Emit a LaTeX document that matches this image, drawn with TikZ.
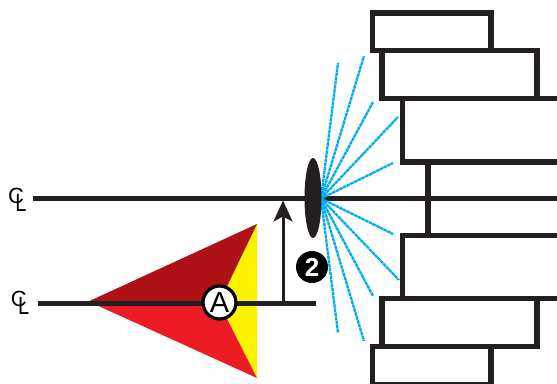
\documentclass[tikz,border=0pt]{standalone}
\usepackage{fontspec}
\usepackage{xcolor}
\newfontfamily\badgefont{Liberation Sans}
\usetikzlibrary{arrows.meta,shapes.geometric}
\definecolor{boomgray}{HTML}{231F20}
\definecolor{raycyan}{HTML}{00AEEF}
\definecolor{darkred}{HTML}{AE1116}
\definecolor{brightred}{HTML}{ED1C24}
\definecolor{sunyellow}{HTML}{FFF200}
\tikzset{
  boom/.style={draw=boomgray, line width=5.4pt},
  ray/.style={draw=raycyan, line width=2.3pt, dash pattern=on 3.5pt off 0.6pt},
  clmark/.style={inner sep=0pt, anchor=base west, text=black, font=\badgefont\fontsize{22}{22}\selectfont}
}
\newcommand{\clsign}{C\kern-8.7pt\raisebox{-8pt}{\fontsize{25}{25}\selectfont\scalebox{0.8}[1]{L}}}
\begin{document}
\begin{tikzpicture}[x=1pt,y=-1pt]
\useasboundingbox (0,0) rectangle (557,383);
\clip (0,0) rectangle (557,383);
% guidance triangle
\coordinate (apex) at (84,303.5);
\coordinate (apexlow) at (93,303.5);
\coordinate (topc) at (257,224);
\coordinate (botc) at (257,378);
\coordinate (mid) at (219,303);
\fill [sunyellow] (mid) -- (topc) -- (botc) -- cycle;
\fill [darkred] (apex) -- (topc) -- (mid) -- cycle;
\fill [brightred] (apexlow) -- (botc) -- (mid) -- cycle;
% sections
\draw [boom] (372.5,13) rectangle (491,50.5);
\draw [boom] (382,50.5) rectangle (537,98.5);
\draw [boom] (570,98.5) -- (402.5,98.5) -- (402.5,162) -- (570,162);
\draw [boom] (372.5,384.5) rectangle (491,346.5);
\draw [boom] (382,346.5) rectangle (537,298.5);
\draw [boom] (570,298.5) -- (402.5,298.5) -- (402.5,235.5) -- (570,235.5);
\draw [boom] (428,162) -- (428,235.5);
% center lines
\coordinate (cla) at (33,198.5);
\coordinate (clb) at (560,198.5);
\coordinate (lowa) at (38,303.5);
\coordinate (lowb) at (316,303.5);
\coordinate (foot) at (283,303.5);
\coordinate (head) at (283,200.5);
\draw [boom] (cla) -- (clb);
\draw [boom, line width=5pt] (lowa) -- (lowb);
\draw [boomgray, line width=3pt, -{Stealth[length=21pt,width=19pt,inset=5pt]}] (foot) -- (head);
\node [clmark] (clup) at (8,203) {\clsign};
\node [clmark] (cllow) at (10.7,306.7) {\clsign};
% nozzle and spray
\coordinate (nozzle) at (321,198.5);
\foreach \ex/\ey in {338/63,364/56,373/102,398/117,393/163,393/234,399/280,373/296,364/341,338/333}
  \draw [ray] (nozzle) -- (\ex,\ey);
\node [ellipse, fill=boomgray, minimum width=17pt, minimum height=80pt, inner sep=0pt] (tip) at (313,198) {};
% labels
\node [circle, draw=black, line width=3.2pt, fill=white, minimum size=33pt, inner sep=0pt, font=\badgefont\fontsize{29}{29}\selectfont] (apoint) at (219.5,302.5) {A};
\node [circle, fill=black, minimum size=32pt, inner sep=0pt, text=white, font=\badgefont\bfseries\fontsize{26}{26}\selectfont] (two) at (312,267) {2};
\end{tikzpicture}
\end{document}
